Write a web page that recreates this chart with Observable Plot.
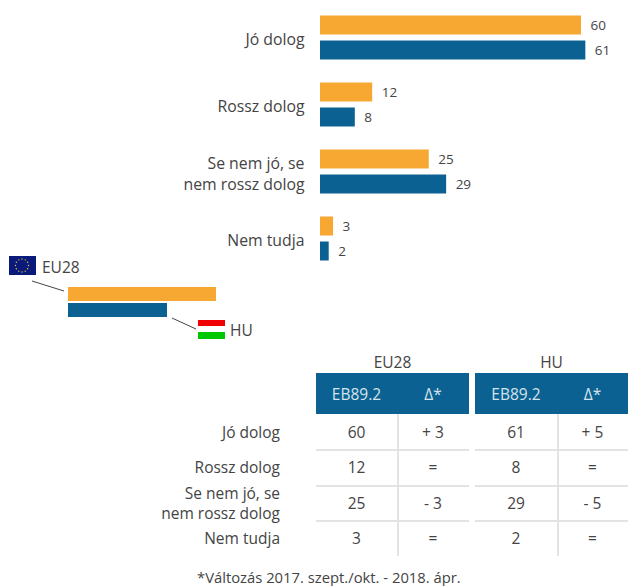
<!DOCTYPE html>
<html><head><meta charset="utf-8">
<script src="https://cdn.jsdelivr.net/npm/d3@7"></script>
<script src="https://cdn.jsdelivr.net/npm/@observablehq/plot@0.6"></script>
<style>
html,body{margin:0;padding:0;background:#fff}
body{width:628px;height:586px;overflow:hidden;font-family:"Open Sans",sans-serif;color:#444}
#wrap{position:relative;width:628px;height:586px}
#chart{position:absolute;left:0;top:0}
.abs{position:absolute;white-space:nowrap;line-height:1}
.cell{position:absolute;display:flex;align-items:center;justify-content:center;font-size:15.5px;box-sizing:border-box}
.lab{position:absolute;right:348px;text-align:right;font-size:15.5px;line-height:20px;display:flex;align-items:center;justify-content:flex-end;white-space:pre}
</style></head><body>
<div id="wrap"><div id="chart"></div></div>
<script>
const categories = ["Jó dolog","Rossz dolog","Se nem jó, se\nnem rossz dolog","Nem tudja"];
const seriesNames = ["EU28","HU"];
const eu28 = [60,12,25,3];
const hu = [61,8,29,2];
const euDelta = ["+ 3","=","- 3","="];
const huDelta = ["+ 5","=","- 5","="];
const colors = ["#f7a833","#0b6292"];
const footnote = "*Változás 2017. szept./okt. - 2018. ápr.";

const rows = categories.flatMap((c,i)=>[
  {category:c,series:seriesNames[0],value:eu28[i]},
  {category:c,series:seriesNames[1],value:hu[i]}
]);
const plot = Plot.plot({
  width:628,height:269,marginLeft:320,marginRight:3.5,marginTop:7.5,marginBottom:0,
  style:{fontFamily:"'Open Sans',sans-serif",background:"transparent"},
  x:{domain:[0,70],axis:null},
  y:{domain:seriesNames,axis:null,paddingInner:0.23,paddingOuter:0.27},
  fy:{domain:categories,axis:null,paddingInner:0.1,paddingOuter:0},
  color:{domain:seriesNames,range:colors},
  marks:[
    Plot.barX(rows,{x:"value",y:"series",fy:"category",fill:"series"}),
    Plot.text(rows,{x:"value",y:"series",fy:"category",text:d=>String(d.value),textAnchor:"start",dx:9,fontSize:13.5,fill:"#444"}),
    Plot.text(categories,{fy:d=>d,text:d=>d,frameAnchor:"left",textAnchor:"end",dx:-16,fontSize:15.8,fill:"#444",lineHeight:1.36})
  ]
});
const wrap=document.getElementById("wrap");
document.getElementById("chart").append(plot);

function add(cls,css,text){const e=document.createElement("div");e.className=cls;e.style.cssText=css;if(text!=null)e.textContent=text;wrap.append(e);return e;}

// legend key
add("abs","left:68px;top:287px;width:148px;height:14px;background:"+colors[0]);
add("abs","left:68px;top:303px;width:99px;height:14px;background:"+colors[1]);
add("abs","left:42px;top:260px;font-size:15.5px","EU28");
add("abs","left:230px;top:323px;font-size:15.5px","HU");
const flag=document.createElement("div");flag.className="abs";flag.style.cssText="left:9px;top:256px";
const stars=d3.range(12).map(i=>{const a=i*Math.PI/6;return `<circle cx="${13+6.5*Math.cos(a)}" cy="${9.5+6.5*Math.sin(a)}" r="0.7" fill="#e8c83a"/>`}).join("");
flag.innerHTML=`<svg width="27" height="19" style="display:block"><rect width="27" height="19" fill="#0a1a7a"/>${stars}</svg>`;
wrap.append(flag);
const lines=document.createElement("div");lines.className="abs";lines.style.cssText="left:0;top:240px";
lines.innerHTML=`<svg width="300" height="110" style="display:block"><path d="M32 41L64 51M172 78L196 89" stroke="#444" fill="none"/></svg>`;
wrap.append(lines);
add("abs","left:198px;top:320px;width:27px;height:6px;background:#f00000");
add("abs","left:198px;top:326px;width:27px;height:6px;background:#fff");
add("abs","left:198px;top:332px;width:27px;height:7px;background:#00c800");

// table
const cols=[{x:316,w:81},{x:397,w:72},{x:475,w:82},{x:557,w:71}];
const tops=[414,449,485,520,556];
const g="#e3e3e3";
add("cell","left:316px;top:352px;width:153px;height:20px","EU28");
add("cell","left:475px;top:352px;width:153px;height:20px","HU");
add("abs","left:316px;top:373px;width:153px;height:41px;background:"+colors[1]);
add("abs","left:475px;top:373px;width:153px;height:41px;background:"+colors[1]);
cols.forEach((c,j)=>add("cell",`left:${c.x}px;top:373px;width:${c.w}px;height:41px;color:#d5e3ec`,j%2?"Δ*":"EB89.2"));
[449,485,520].forEach(y=>{
  add("abs",`left:316px;top:${y}px;width:153px;height:1.5px;background:${g}`);
  add("abs",`left:475px;top:${y}px;width:153px;height:1.5px;background:${g}`);
});
[397,557].forEach(x=>add("abs",`left:${x}px;top:414px;width:1.5px;height:142px;background:${g}`));
categories.forEach((c,i)=>{
  const t=tops[i],h=tops[i+1]-t;
  add("lab",`top:${t}px;height:${h}px`,c);
  [eu28[i],euDelta[i],hu[i],huDelta[i]].forEach((v,j)=>
    add("cell",`left:${cols[j].x}px;top:${t}px;width:${cols[j].w}px;height:${h}px`,String(v)));
});
add("abs","left:197px;top:569px;font-size:14.8px;line-height:16px",footnote);
</script>
</body></html>
